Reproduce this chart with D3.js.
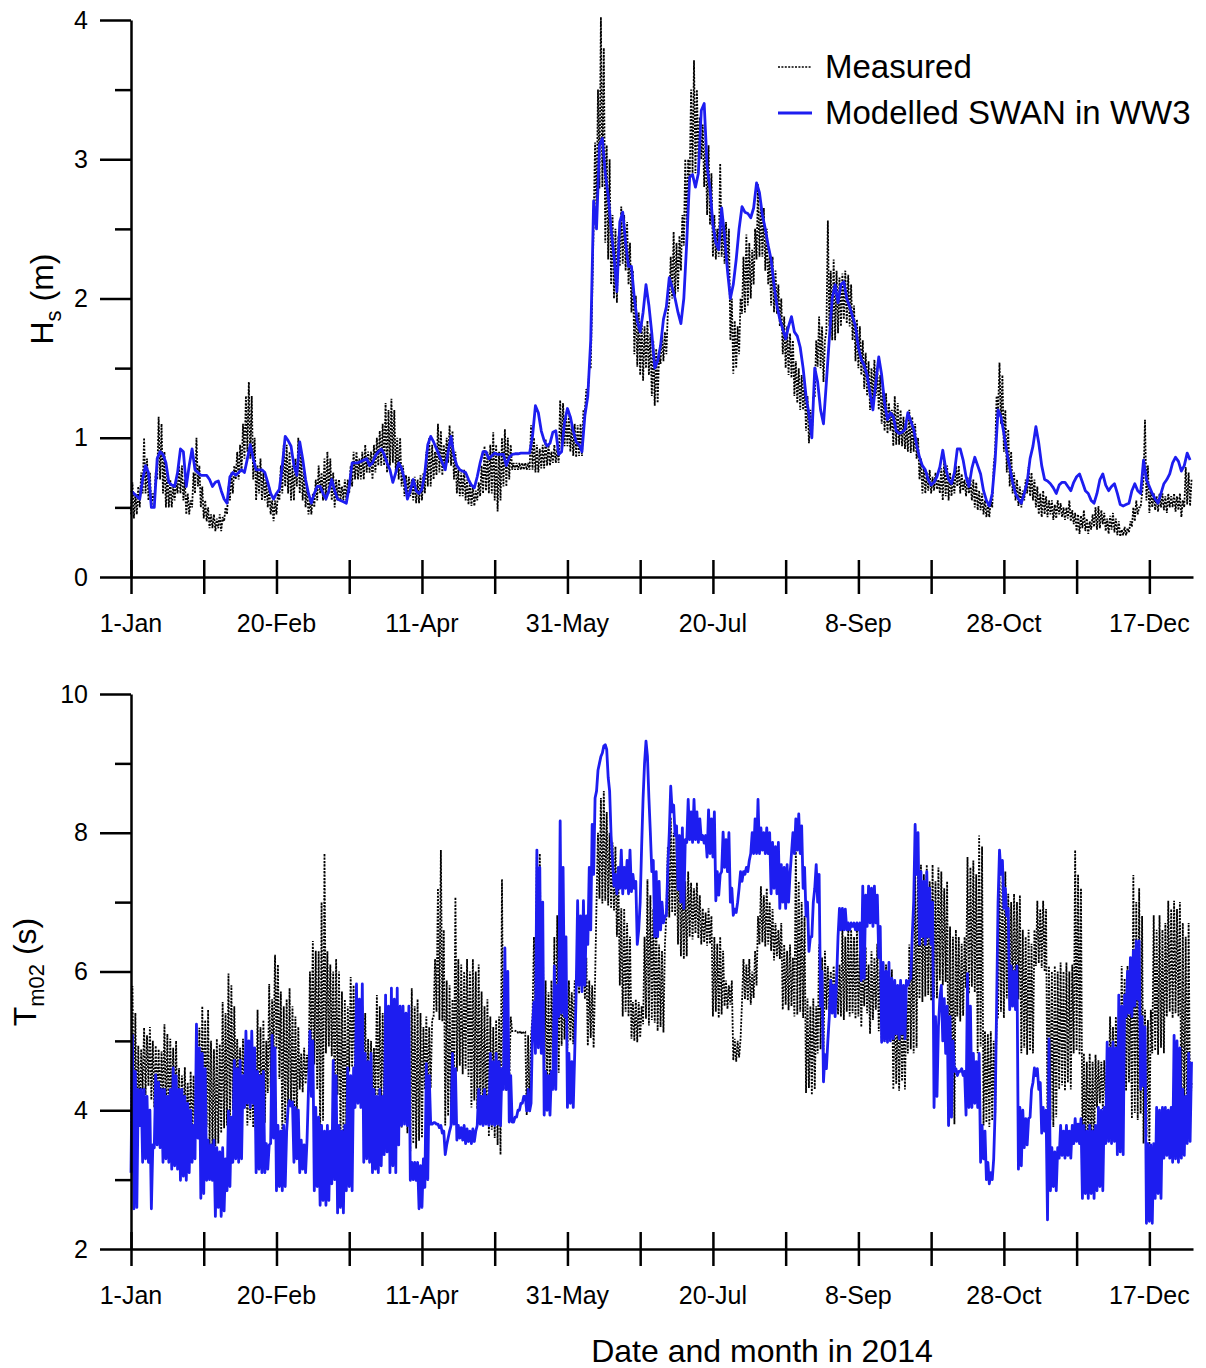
<!DOCTYPE html>
<html>
<head>
<meta charset="utf-8">
<script src="https://cdn.jsdelivr.net/npm/d3@7"></script>
<style>
  body { margin: 0; background: #fff; }
  svg text { font-family: "Liberation Sans", Arial, sans-serif; fill: #000; }
</style>
</head>
<body>
<div id="chart"></div>
<script>
// x: day of 2014 (0 = 1-Jan); one low and one high reading per day taken off the plot
const xTickDays = [0, 25, 50, 75, 100, 125, 150, 175, 200, 225, 250, 275, 300, 325, 350];
const xLabelDays = [0, 50, 100, 150, 200, 250, 300, 350];
const xTickLabels = ["1-Jan", "20-Feb", "11-Apr", "31-May", "20-Jul", "8-Sep", "28-Oct", "17-Dec"];

const hsMajor = [0, 1, 2, 3, 4];
const hsMinor = [0.5, 1.5, 2.5, 3.5];
const tmMajor = [2, 4, 6, 8, 10];
const tmMinor = [3, 5, 7, 9];

// Hs measured (m): daily low / high
const hsMeasLow = [
  0.45,0.42,0.45,0.5,0.6,0.6,0.55,0.5,0.55,0.7,
  0.7,0.6,0.5,0.5,0.5,0.55,0.6,0.6,0.55,0.45,
  0.45,0.5,0.6,0.65,0.5,0.42,0.4,0.35,0.35,0.33,
  0.35,0.33,0.4,0.45,0.55,0.6,0.7,0.7,0.75,0.85,
  0.9,0.85,0.7,0.55,0.6,0.55,0.55,0.5,0.45,0.4,
  0.45,0.55,0.6,0.65,0.6,0.55,0.55,0.65,0.6,0.55,
  0.5,0.45,0.45,0.5,0.55,0.6,0.55,0.55,0.6,0.55,
  0.5,0.55,0.55,0.55,0.55,0.6,0.65,0.7,0.7,0.7,
  0.7,0.75,0.75,0.7,0.75,0.8,0.8,0.8,0.75,0.8,
  0.82,0.75,0.7,0.65,0.58,0.58,0.58,0.55,0.53,0.53,
  0.55,0.6,0.65,0.65,0.7,0.73,0.75,0.73,0.8,0.82,
  0.8,0.7,0.6,0.58,0.58,0.55,0.52,0.51,0.51,0.55,
  0.58,0.6,0.62,0.6,0.6,0.55,0.47,0.55,0.65,0.65,
  0.7,0.77,0.77,0.77,0.77,0.77,0.77,0.77,0.77,0.75,
  0.75,0.78,0.78,0.8,0.8,0.82,0.82,0.82,0.92,0.94,
  0.94,0.9,0.87,0.86,0.87,0.87,1.2,1.3,1.5,2.53,
  2.6,2.79,2.8,2.4,2.28,2.1,2.0,1.97,2.23,2.25,
  2.2,2.1,1.9,1.6,1.51,1.45,1.41,1.5,1.45,1.3,
  1.23,1.25,1.53,1.55,1.6,1.97,2.0,2.0,2.05,2.2,
  2.38,2.5,2.84,2.9,2.9,3.0,3.0,2.8,2.6,2.53,
  2.3,2.28,2.3,2.3,2.25,2.2,1.7,1.46,1.5,1.6,
  1.89,1.9,1.95,2.0,2.1,2.28,2.3,2.3,2.2,2.1,
  1.95,1.9,1.89,1.8,1.6,1.5,1.45,1.43,1.3,1.25,
  1.2,1.2,1.05,0.96,1.0,1.3,1.51,1.5,1.4,1.76,
  1.8,1.7,1.7,1.75,1.8,1.85,1.82,1.8,1.7,1.55,
  1.5,1.45,1.35,1.3,1.2,1.25,1.3,1.2,1.1,1.05,
  1.03,1.05,0.94,0.95,0.95,0.94,0.92,0.9,0.89,0.9,
  0.85,0.7,0.6,0.6,0.62,0.6,0.62,0.63,0.6,0.55,
  0.58,0.55,0.58,0.6,0.65,0.6,0.62,0.58,0.6,0.55,
  0.5,0.48,0.48,0.45,0.43,0.43,0.5,0.9,1.18,1.1,
  0.9,0.75,0.65,0.6,0.55,0.51,0.5,0.55,0.6,0.58,
  0.55,0.5,0.45,0.43,0.45,0.43,0.45,0.41,0.42,0.45,
  0.43,0.41,0.42,0.4,0.38,0.33,0.31,0.35,0.33,0.31,
  0.34,0.36,0.34,0.35,0.38,0.33,0.31,0.34,0.32,0.3,
  0.29,0.3,0.3,0.32,0.36,0.4,0.45,0.5,0.7,0.55,
  0.46,0.5,0.48,0.47,0.5,0.48,0.46,0.5,0.5,0.47,
  0.48,0.43,0.5,0.52,0.51
];
const hsMeasHigh = [
  0.68,0.6,0.65,0.75,1.0,0.85,0.75,0.6,0.75,1.15,
  1.1,0.9,0.75,0.7,0.65,0.7,0.8,0.8,0.7,0.6,
  0.55,0.75,1.0,0.8,0.65,0.55,0.5,0.45,0.45,0.42,
  0.45,0.43,0.5,0.65,0.75,0.8,0.9,0.95,1.1,1.3,
  1.4,1.3,1.0,0.8,0.85,0.75,0.7,0.65,0.55,0.55,
  0.6,0.8,0.95,0.95,0.9,0.8,0.85,1.0,0.9,0.75,
  0.65,0.55,0.6,0.7,0.8,0.75,0.85,0.9,0.85,0.75,
  0.7,0.7,0.65,0.7,0.7,0.8,0.9,0.9,0.85,0.9,
  0.95,0.9,0.9,0.95,1.0,1.05,1.1,1.25,1.2,1.28,
  1.2,1.0,1.0,0.8,0.73,0.72,0.7,0.72,0.7,0.73,
  0.75,0.9,1.0,0.95,0.9,1.1,1.05,0.95,1.0,1.09,
  1.05,0.9,0.77,0.75,0.77,0.7,0.68,0.65,0.62,0.68,
  0.8,0.94,0.9,0.95,1.04,0.95,0.9,1.0,1.06,1.0,
  0.95,0.82,0.82,0.82,0.82,0.82,0.82,1.09,1.0,0.95,
  0.92,0.95,0.99,0.95,0.9,0.95,0.92,1.27,1.25,1.16,
  1.16,1.1,1.1,1.09,1.1,1.2,1.35,1.5,2.0,3.12,
  3.5,4.02,3.8,3.1,3.0,2.6,2.5,2.45,2.66,2.6,
  2.55,2.4,2.2,2.02,1.9,1.84,1.8,1.84,1.75,1.7,
  1.64,1.6,1.76,1.76,1.9,2.3,2.48,2.4,2.45,2.6,
  3.0,3.0,3.5,3.71,3.5,3.3,3.25,3.17,3.1,2.9,
  2.6,2.5,2.97,2.58,2.55,2.5,2.0,1.84,1.8,2.0,
  2.3,2.46,2.4,2.35,2.5,2.82,2.7,2.65,2.5,2.3,
  2.3,2.2,2.1,2.0,1.87,1.8,1.75,1.7,1.55,1.5,
  1.45,1.4,1.3,1.2,1.3,1.7,1.87,1.8,1.7,2.56,
  2.2,2.28,2.2,2.15,2.18,2.2,2.17,2.1,1.95,1.85,
  1.8,1.7,1.61,1.55,1.5,1.56,1.5,1.45,1.35,1.32,
  1.25,1.2,1.3,1.25,1.2,1.15,1.1,1.2,1.15,1.1,
  1.0,0.85,0.79,0.75,0.77,0.72,0.75,0.7,0.78,0.84,
  0.8,0.75,0.72,0.8,0.8,0.74,0.7,0.72,0.7,0.7,
  0.68,0.62,0.6,0.55,0.52,0.55,0.8,1.3,1.54,1.45,
  1.2,1.06,0.9,0.75,0.7,0.65,0.62,0.7,0.79,0.75,
  0.7,0.65,0.6,0.62,0.58,0.55,0.55,0.52,0.55,0.53,
  0.5,0.5,0.55,0.48,0.46,0.45,0.44,0.48,0.42,0.4,
  0.45,0.5,0.51,0.48,0.46,0.42,0.44,0.46,0.42,0.4,
  0.34,0.36,0.35,0.4,0.5,0.55,0.5,0.6,1.13,0.8,
  0.62,0.6,0.58,0.6,0.6,0.58,0.6,0.58,0.6,0.58,
  0.6,0.55,0.79,0.75,0.7
];
// Hs modelled SWAN in WW3 (m): daily
const hsModel = [
  0.62,0.6,0.58,0.56,0.7,0.8,0.75,0.5,0.5,0.85,
  0.9,0.88,0.82,0.68,0.66,0.65,0.75,0.92,0.9,0.65,
  0.8,0.92,0.77,0.75,0.73,0.73,0.73,0.7,0.65,0.68,
  0.69,0.62,0.56,0.53,0.72,0.75,0.73,0.75,0.77,0.75,
  0.85,0.95,0.85,0.77,0.77,0.77,0.75,0.68,0.6,0.56,
  0.6,0.63,0.8,1.01,0.98,0.94,0.8,0.73,0.97,0.85,
  0.7,0.6,0.53,0.6,0.65,0.65,0.6,0.56,0.62,0.7,
  0.62,0.56,0.55,0.54,0.53,0.65,0.82,0.82,0.82,0.83,
  0.84,0.85,0.8,0.82,0.87,0.9,0.92,0.88,0.82,0.77,
  0.68,0.75,0.82,0.78,0.7,0.56,0.62,0.7,0.62,0.6,
  0.63,0.75,0.95,1.01,0.97,0.92,0.87,0.82,0.77,0.9,
  1.01,0.87,0.8,0.77,0.76,0.75,0.7,0.66,0.64,0.72,
  0.82,0.9,0.9,0.85,0.87,0.89,0.88,0.88,0.88,0.8,
  0.86,0.88,0.885,0.885,0.89,0.89,0.89,0.89,1.01,1.23,
  1.18,1.05,0.98,0.94,0.96,1.04,1.05,0.88,0.9,1.11,
  1.21,1.15,1.05,0.97,0.95,0.9,1.16,1.3,1.7,2.7,
  2.5,3.1,3.15,2.9,2.74,2.5,2.3,2.05,2.55,2.62,
  2.4,2.23,2.23,2.0,1.84,1.76,1.9,2.1,1.95,1.75,
  1.5,1.55,1.66,1.85,1.94,2.15,2.08,2.0,1.9,1.82,
  2.0,2.4,2.87,2.89,2.8,2.9,3.35,3.4,2.95,2.79,
  2.53,2.4,2.35,2.65,2.45,2.2,2.0,2.1,2.28,2.5,
  2.66,2.62,2.61,2.58,2.65,2.83,2.76,2.6,2.5,2.38,
  2.28,2.1,1.95,1.85,1.78,1.71,1.8,1.87,1.76,1.73,
  1.65,1.5,1.3,1.17,1.0,1.5,1.4,1.2,1.1,1.4,
  1.71,2.0,2.1,1.97,2.1,2.12,2.0,1.94,1.87,1.8,
  1.65,1.56,1.52,1.45,1.32,1.2,1.4,1.58,1.45,1.25,
  1.13,1.18,1.15,1.05,1.03,1.04,1.06,1.18,1.12,1.06,
  0.95,0.86,0.8,0.77,0.7,0.66,0.68,0.72,0.79,0.91,
  0.78,0.7,0.67,0.75,0.92,0.92,0.84,0.72,0.65,0.78,
  0.86,0.8,0.74,0.62,0.55,0.51,0.6,0.84,1.2,1.15,
  1.03,0.9,0.79,0.68,0.6,0.56,0.53,0.6,0.68,0.85,
  0.94,1.08,0.96,0.8,0.7,0.69,0.67,0.64,0.6,0.66,
  0.68,0.68,0.65,0.62,0.68,0.72,0.74,0.68,0.62,0.6,
  0.55,0.53,0.6,0.7,0.74,0.66,0.62,0.65,0.67,0.6,
  0.52,0.51,0.52,0.53,0.62,0.67,0.62,0.6,0.84,0.7,
  0.65,0.6,0.56,0.53,0.6,0.67,0.7,0.74,0.82,0.86,
  0.83,0.76,0.8,0.89,0.84
];

// Tm02 measured (s): daily low / high
const tmMeasLow = [
  3.67,3.75,3.62,3.85,4.3,4.22,4.35,4.15,4.04,4.12,
  4.0,4.09,3.95,3.83,3.92,3.8,3.6,3.52,3.65,3.57,
  3.5,3.58,3.62,3.8,3.72,3.88,3.76,3.5,3.41,3.48,
  3.52,3.67,3.74,3.78,3.85,4.0,4.3,4.25,4.18,4.02,
  3.78,3.86,3.75,3.46,3.55,3.6,3.82,4.25,4.32,4.82,
  4.88,4.45,3.67,3.82,4.04,4.12,3.78,3.92,4.3,4.26,
  4.38,4.5,4.82,4.66,4.3,3.62,3.85,4.82,4.92,4.78,
  4.14,4.22,3.52,3.64,3.7,4.56,4.62,4.48,4.4,4.46,
  4.36,3.78,3.84,3.92,4.04,4.14,4.0,4.2,4.3,4.04,
  4.12,3.67,3.72,3.75,3.84,3.67,3.41,3.52,3.45,3.56,
  3.6,4.3,4.18,4.32,5.35,5.42,5.3,5.28,3.78,3.92,
  3.8,4.3,4.56,4.64,4.52,4.6,4.48,4.04,4.14,4.02,
  3.88,3.94,3.85,3.62,3.72,3.6,3.5,3.36,4.3,4.28,
  4.34,5.14,5.14,5.12,5.1,5.1,3.93,3.98,5.35,5.42,
  5.32,5.38,4.3,4.36,4.28,4.56,4.62,4.54,4.93,5.02,
  4.9,5.0,4.95,5.76,5.68,5.78,5.6,4.93,5.04,4.9,
  7.0,7.05,6.98,7.02,6.95,6.91,6.88,6.5,5.8,5.35,
  5.42,5.35,5.03,5.0,4.98,5.05,5.24,5.32,5.22,5.3,
  5.26,5.14,5.2,5.12,6.81,6.78,6.85,6.8,6.39,6.22,
  6.18,6.22,6.5,6.46,6.55,6.48,6.39,6.42,6.37,6.4,
  5.35,5.42,5.33,5.38,5.5,5.46,5.52,4.72,4.7,4.76,
  5.56,5.6,5.58,5.52,5.62,5.8,6.39,6.42,6.36,6.39,
  6.3,6.16,6.22,6.18,5.45,5.52,5.44,5.5,5.35,5.38,
  5.42,5.33,4.25,4.32,4.22,4.3,4.82,4.88,4.8,5.45,
  5.42,5.5,5.44,5.38,5.35,5.3,5.42,5.35,5.4,5.32,
  5.35,5.2,5.5,5.4,5.1,5.3,5.45,5.14,5.0,5.2,
  5.15,5.1,4.3,4.38,4.28,4.42,4.3,4.82,4.88,4.82,
  4.9,5.61,5.56,5.64,5.66,5.58,5.62,5.61,5.87,5.8,
  5.85,3.78,3.92,3.8,5.35,5.28,5.36,5.76,5.68,5.78,
  5.7,4.82,4.92,3.78,3.82,3.76,3.85,3.92,5.35,5.42,
  5.33,5.61,5.58,5.63,5.65,5.6,4.82,4.9,4.8,4.86,
  4.82,6.08,6.12,6.05,6.0,3.78,3.86,3.76,3.9,4.3,
  4.36,4.28,4.4,4.3,4.82,4.86,4.8,3.36,3.42,3.36,
  3.45,3.38,4.04,4.1,4.02,4.1,4.14,4.22,4.12,4.2,
  4.3,4.36,4.28,4.4,3.88,3.96,3.86,3.95,3.52,3.62,
  3.5,4.82,4.86,4.8,4.9,4.82,5.35,5.42,5.33,5.4,
  5.35,3.78,3.86,3.76,3.9
];
const tmMeasHigh = [
  5.79,5.4,4.93,4.88,5.19,5.08,5.2,5.0,4.93,4.88,
  4.85,5.24,5.1,5.03,4.9,5.0,4.61,4.5,4.62,4.4,
  4.56,4.5,4.7,5.19,5.5,5.3,5.45,5.0,4.88,5.03,
  4.95,5.56,5.4,5.97,5.8,5.5,5.03,4.9,5.03,4.82,
  4.75,4.82,4.7,5.45,5.2,5.3,5.0,5.82,5.6,6.24,
  6.1,5.71,5.5,5.6,5.76,5.5,5.35,5.2,4.82,4.9,
  4.8,6.0,6.44,6.3,6.29,7.0,7.7,6.29,6.1,6.0,
  6.18,6.0,5.71,5.6,5.5,5.92,5.8,5.66,5.6,5.5,
  5.4,5.03,5.0,4.9,5.66,5.5,5.4,5.3,5.45,5.35,
  5.3,5.14,5.0,5.1,4.9,5.0,5.76,5.5,5.6,5.4,
  5.2,5.35,5.2,5.3,6.18,7.2,7.75,6.6,5.87,5.8,
  5.6,7.07,6.18,6.1,6.0,6.18,6.0,6.18,6.0,6.1,
  5.71,5.5,5.6,5.35,5.2,5.3,5.35,7.33,5.35,5.2,
  5.35,5.14,5.15,5.14,5.14,5.12,5.08,5.08,6.5,7.75,
  7.7,6.8,5.87,5.7,5.87,6.5,6.81,6.6,5.87,5.8,
  5.87,5.7,5.87,6.39,6.3,6.39,6.2,5.87,5.8,5.87,
  8.0,8.5,8.6,8.3,8.0,7.86,7.8,7.4,6.91,6.91,
  6.7,6.5,5.56,5.6,5.56,5.5,6.5,7.33,7.1,6.9,
  6.8,6.39,6.3,6.39,7.8,8.22,8.0,7.96,7.96,7.44,
  7.3,7.44,7.28,7.2,7.28,7.1,6.91,6.85,6.91,6.8,
  6.5,6.4,6.5,6.3,5.87,5.8,5.87,5.03,5.0,5.03,
  6.18,6.1,6.18,6.0,6.3,6.8,7.23,7.1,7.2,7.0,
  6.9,6.7,6.6,6.7,6.39,6.3,6.39,6.2,7.75,7.3,
  7.0,6.8,5.61,5.5,5.61,5.5,6.39,6.2,6.3,6.08,
  6.0,6.08,6.0,6.1,6.65,6.5,6.65,6.6,6.5,6.65,
  6.29,6.2,6.35,6.1,6.29,6.2,6.4,6.03,5.9,6.1,
  5.95,6.03,5.61,5.5,5.61,5.5,5.61,6.39,6.3,7.7,
  7.5,7.54,7.4,7.54,7.3,7.54,7.3,7.5,7.44,7.2,
  7.3,6.65,6.5,6.6,6.5,6.4,6.5,7.65,7.5,7.6,
  7.4,7.96,7.8,5.14,5.1,5.14,5.0,5.3,7.44,7.3,
  7.44,7.12,7.0,7.12,7.0,7.1,6.6,6.5,6.6,6.4,
  6.6,7.02,6.9,7.02,6.9,6.08,6.0,6.08,6.0,6.13,
  6.0,6.13,6.0,6.1,7.75,7.4,7.2,4.82,4.7,4.82,
  4.7,4.8,4.72,4.7,4.72,4.65,5.35,5.2,5.35,5.2,
  6.08,5.9,6.08,5.9,7.39,7.0,7.2,6.8,5.45,5.3,
  5.45,6.81,6.6,6.81,6.6,6.7,7.02,6.9,7.02,6.9,
  7.0,6.7,6.5,6.7,4.41
];
// Tm02 modelled SWAN in WW3 (s): daily low / high
const tmModLow = [
  3.1,2.58,2.6,3.78,3.25,3.3,3.25,2.58,3.46,3.5,
  3.46,3.25,3.3,3.25,3.15,3.2,3.15,2.99,3.05,2.99,
  3.1,3.25,3.3,3.6,2.73,2.8,2.99,3.0,2.99,2.47,
  2.6,2.47,2.55,2.84,2.9,3.25,3.3,3.25,3.3,4.04,
  4.1,4.04,4.1,3.1,3.15,3.1,3.1,3.15,3.52,3.6,
  2.84,2.9,2.84,2.9,4.04,4.06,3.25,3.3,3.1,3.15,
  3.1,4.3,4.2,2.84,2.9,2.63,2.7,2.63,2.7,2.94,
  3.0,2.52,2.6,2.52,2.84,2.9,2.84,4.04,4.1,4.04,
  3.25,3.3,3.25,3.1,3.15,3.1,3.2,3.36,3.4,3.1,
  3.2,3.1,3.5,3.78,3.8,3.78,2.99,3.0,2.99,2.58,
  2.6,2.89,3.0,3.8,3.82,3.8,3.75,3.67,3.36,3.6,
  3.78,3.8,3.57,3.6,3.57,3.52,3.55,3.52,3.55,3.78,
  3.8,3.78,3.8,3.78,3.8,3.78,3.8,3.78,4.3,4.3,
  3.83,3.83,3.9,4.0,4.1,4.2,3.99,3.99,5.2,4.82,
  4.9,4.82,3.93,4.0,3.93,4.3,4.3,5.35,5.4,5.35,
  4.04,4.1,4.04,5.71,5.8,5.71,5.8,6.39,6.6,7.4,
  8.6,9.0,9.15,9.27,8.8,7.96,7.23,7.12,7.2,7.12,
  7.2,7.12,7.15,7.2,6.39,7.0,8.5,9.32,8.5,7.44,
  6.5,6.5,6.6,6.7,6.8,8.0,8.3,7.96,7.18,7.0,
  6.91,7.86,7.9,7.86,7.9,7.86,7.9,7.85,7.65,7.7,
  7.65,7.02,7.1,7.44,7.5,7.44,7.0,6.81,6.85,7.2,
  7.3,7.4,7.44,7.7,7.7,7.7,7.7,7.75,7.7,7.7,
  7.12,7.2,7.12,6.91,7.0,6.91,7.0,7.7,7.7,7.75,
  7.7,7.2,6.8,6.29,6.5,7.2,7.0,5.5,4.41,4.6,
  5.35,5.4,5.35,6.5,6.6,6.6,6.6,6.6,6.65,6.6,
  6.6,5.87,5.9,6.65,6.7,6.65,6.7,6.2,4.98,5.0,
  4.98,5.0,5.03,5.1,5.03,5.1,5.03,5.8,5.9,7.0,
  7.4,6.39,6.5,6.39,6.5,6.39,4.04,4.2,5.61,5.0,
  4.82,3.78,3.9,4.56,4.5,4.56,4.5,3.93,4.04,4.04,
  4.1,4.04,3.25,3.3,3.0,2.94,3.0,4.0,7.0,7.4,
  6.91,6.8,5.45,5.5,5.45,3.15,3.2,3.46,3.5,3.9,
  4.4,4.5,4.3,3.67,3.7,2.42,2.84,2.9,2.84,3.31,
  3.35,3.31,3.35,3.31,3.52,3.55,3.52,2.73,2.8,2.73,
  2.8,2.73,2.84,2.9,2.84,3.52,3.55,3.52,3.55,3.36,
  3.4,3.36,5.35,5.4,5.35,5.5,5.6,4.3,4.35,2.37,
  2.4,2.37,2.73,2.8,2.73,3.31,3.35,3.31,3.25,3.3,
  3.25,3.31,3.35,3.52,3.55
];
const tmModHigh = [
  5.08,4.56,4.3,4.3,4.3,4.2,4.0,3.5,4.51,4.4,
  4.3,4.3,4.2,4.3,4.61,4.5,4.3,4.3,4.2,4.1,
  4.0,3.78,5.24,4.9,4.82,4.6,3.57,3.5,3.57,3.46,
  3.4,3.46,3.3,3.99,3.9,4.72,4.6,4.72,4.5,5.14,
  5.0,5.14,4.9,4.56,4.5,4.56,3.52,3.5,5.08,4.9,
  3.78,3.7,3.78,3.7,4.14,4.12,4.04,4.0,3.57,3.5,
  3.57,5.14,5.0,4.04,3.9,3.78,3.7,3.78,3.7,4.72,
  4.5,3.78,3.7,3.78,4.61,4.5,4.61,5.82,5.6,5.82,
  4.82,4.7,4.82,4.3,4.2,4.3,4.2,5.66,5.5,5.76,
  5.6,5.76,5.5,5.5,5.4,5.5,3.25,3.25,3.25,3.2,
  3.3,4.67,4.5,3.8,3.82,3.8,3.78,3.7,3.5,3.7,
  4.82,4.6,3.78,3.75,3.78,3.73,3.7,3.73,3.7,4.3,
  4.2,4.3,4.2,4.82,4.7,4.82,4.7,4.6,6.34,6.0,
  4.5,3.83,3.9,4.0,4.1,4.2,4.3,4.1,5.56,7.75,
  7.5,7.0,4.56,4.5,4.56,6.08,5.8,8.17,7.5,6.5,
  4.82,4.7,4.82,7.02,6.8,7.02,6.8,7.5,8.12,8.5,
  8.9,9.1,9.25,9.2,8.6,7.6,7.4,7.5,7.75,7.5,
  7.6,7.75,7.4,7.3,6.6,7.8,9.0,9.1,8.0,7.6,
  7.44,7.3,7.0,6.8,7.5,8.67,8.4,8.1,7.96,8.07,
  7.9,8.48,8.3,8.48,8.3,8.2,7.96,7.96,8.33,8.2,
  8.3,7.44,7.4,8.01,7.9,8.0,7.2,6.9,7.0,7.44,
  7.44,7.5,7.6,8.0,8.2,8.48,8.07,8.0,8.07,8.0,
  7.86,7.8,7.86,7.54,7.5,7.54,7.4,8.0,8.2,8.27,
  8.1,7.5,7.0,6.5,7.0,7.54,7.4,6.0,4.8,5.0,
  5.87,5.8,5.87,6.91,6.91,6.9,6.7,6.7,6.7,6.7,
  6.7,7.23,7.1,7.23,7.2,7.23,7.1,6.65,6.13,6.0,
  6.13,5.9,5.87,5.8,5.87,5.8,5.87,5.87,6.5,8.12,
  8.0,7.44,7.3,7.44,7.2,7.0,5.35,5.2,5.8,5.61,
  5.5,5.35,5.0,4.6,4.56,4.6,4.56,5.97,5.5,4.82,
  4.7,4.82,3.78,3.7,3.25,3.1,3.3,5.5,7.75,7.6,
  7.2,6.91,6.08,6.0,6.08,4.04,4.0,3.88,3.88,4.3,
  4.61,4.6,4.4,4.04,4.0,5.03,3.46,3.4,3.46,3.78,
  3.7,3.78,3.7,3.78,3.88,3.8,3.88,3.78,3.7,3.78,
  3.7,3.78,4.04,4.0,4.04,4.98,4.9,4.98,4.9,5.66,
  5.5,5.66,6.0,6.2,6.3,6.44,6.44,5.35,5.2,3.52,
  3.5,3.52,4.04,4.0,4.04,4.04,4.0,4.04,5.08,5.0,
  4.9,4.3,4.2,4.82,4.7
];

const BLUE = "#1d1df0";
const FONT = "'Liberation Sans', Arial, sans-serif";

const svg = d3
  .select("#chart")
  .append("svg")
  .attr("width", 1206)
  .attr("height", 1368);

const x = d3.scaleLinear().domain([0, 365]).range([131, 1193]);
const yHs = d3.scaleLinear().domain([0, 4]).range([577, 20]);
const yTm = d3.scaleLinear().domain([2, 10]).range([1249, 694]);

// low reading at the start of the day, high reading half a day later
function lowHigh(low, high) {
  const pts = [];
  low.forEach((v, i) => {
    pts.push([i, v]);
    pts.push([i + 0.5, high[i]]);
  });
  return pts;
}

function drawPanel(yScale, yMajor, yMinor, measured, modelled) {
  const g = svg.append("g");
  const line = d3
    .line()
    .x((d) => x(d[0]))
    .y((d) => yScale(d[1]));

  g.append("path")
    .datum(measured)
    .attr("d", line)
    .attr("fill", "none")
    .attr("stroke", "#000")
    .attr("stroke-width", 1.8)
    .attr("stroke-dasharray", "2,1.4");

  g.append("path")
    .datum(modelled)
    .attr("d", line)
    .attr("fill", "none")
    .attr("stroke", BLUE)
    .attr("stroke-width", 2.8)
    .attr("stroke-linejoin", "round");

  const base = yScale.range()[0];

  // x axis, ticks cross the line
  const xAxis = g
    .append("g")
    .attr("transform", `translate(0,${base})`)
    .call(
      d3.axisBottom(x).tickValues(xTickDays).tickSize(17).tickSizeOuter(0).tickFormat("")
    );
  xAxis.selectAll(".tick line").attr("y1", -17).attr("y2", 17);
  xAxis.selectAll("line, path").attr("stroke", "#000").attr("stroke-width", 2.5);

  g.selectAll(".xlab")
    .data(xLabelDays)
    .join("text")
    .attr("class", "xlab")
    .attr("x", (d) => x(d))
    .attr("y", base + 55)
    .attr("text-anchor", "middle")
    .style("font-size", "25px")
    .text((d, i) => xTickLabels[i]);

  // y axis
  const yAxis = g
    .append("g")
    .attr("transform", "translate(131,0)")
    .call(
      d3.axisLeft(yScale).tickValues(yMajor).tickSize(31).tickSizeOuter(0).tickPadding(12).tickFormat(d3.format("d"))
    );
  yAxis.attr("font-family", FONT).attr("font-size", 25);
  yAxis.selectAll("line, path").attr("stroke", "#000").attr("stroke-width", 2.5);

  const yMinorAxis = g
    .append("g")
    .attr("transform", "translate(131,0)")
    .call(d3.axisLeft(yScale).tickValues(yMinor).tickSize(16).tickFormat(""));
  yMinorAxis.select(".domain").remove();
  yMinorAxis.selectAll("line").attr("stroke", "#000").attr("stroke-width", 2.5);
}

drawPanel(
  yHs,
  hsMajor,
  hsMinor,
  lowHigh(hsMeasLow, hsMeasHigh),
  hsModel.map((v, i) => [i, v])
);
drawPanel(
  yTm,
  tmMajor,
  tmMinor,
  lowHigh(tmMeasLow, tmMeasHigh),
  lowHigh(tmModLow, tmModHigh)
);

// axis titles
function yTitle(cx, cy, main, sub, rest) {
  const t = svg
    .append("text")
    .attr("transform", `translate(${cx},${cy}) rotate(-90)`)
    .attr("text-anchor", "middle")
    .style("font-size", "32px");
  t.append("tspan").text(main);
  t.append("tspan").attr("dy", 8).style("font-size", "22px").text(sub);
  t.append("tspan").attr("dy", -8).text(rest);
}
yTitle(53, 299, "H", "s", " (m)");
yTitle(36, 972, "T", "m02", " (s)");

svg
  .append("text")
  .attr("x", 762)
  .attr("y", 1362)
  .attr("text-anchor", "middle")
  .style("font-size", "32px")
  .text("Date and month in 2014");

// legend
const legend = svg.append("g");
legend
  .append("line")
  .attr("x1", 778)
  .attr("x2", 812)
  .attr("y1", 67)
  .attr("y2", 67)
  .attr("stroke", "#000")
  .attr("stroke-width", 1.6)
  .attr("stroke-dasharray", "2,1.4");
legend
  .append("line")
  .attr("x1", 778)
  .attr("x2", 812)
  .attr("y1", 113)
  .attr("y2", 113)
  .attr("stroke", BLUE)
  .attr("stroke-width", 2.8);
legend
  .append("text")
  .attr("x", 825)
  .attr("y", 78)
  .style("font-size", "33px")
  .text("Measured");
legend
  .append("text")
  .attr("x", 825)
  .attr("y", 124)
  .style("font-size", "33px")
  .text("Modelled SWAN in WW3");
</script>
</body>
</html>
